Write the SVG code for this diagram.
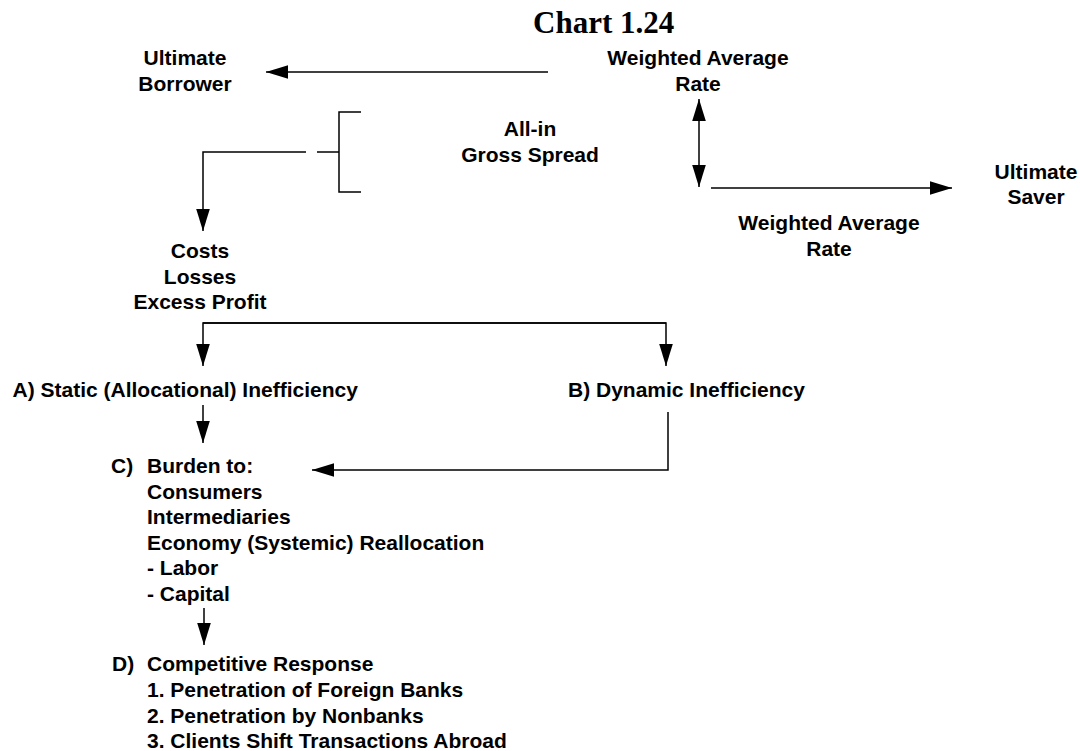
<svg xmlns="http://www.w3.org/2000/svg" width="1080" height="751" viewBox="0 0 1080 751">
<style>
.t{font-family:"Liberation Sans",Arial,sans-serif;font-weight:bold;font-size:21px;fill:#000}
.c{text-anchor:middle}
.title{font-family:"Liberation Serif","Times New Roman",serif;font-weight:bold;font-size:31px;fill:#000}
.ln{fill:none;stroke:#000;stroke-width:1.5}
</style>
<defs>
<marker id="ah" markerUnits="userSpaceOnUse" markerWidth="22" markerHeight="14" viewBox="0 0 21 13" refX="21" refY="6.5" orient="auto-start-reverse">
<path d="M0,0 L21,6.5 L0,13 z" fill="#000"/>
</marker>
</defs>
<rect width="1080" height="751" fill="#fff"/>
<text class="title" x="533" y="33">Chart 1.24</text>
<g id="borrower"><text class="t c" x="185" y="65">Ultimate</text><text class="t c" x="185" y="91">Borrower</text></g>
<g id="rate-top"><text class="t c" x="698" y="65">Weighted Average</text><text class="t c" x="698" y="91">Rate</text></g>
<g id="spread"><text class="t c" x="530" y="136">All-in</text><text class="t c" x="530" y="162">Gross Spread</text></g>
<g id="saver"><text class="t c" x="1036" y="179">Ultimate</text><text class="t c" x="1036" y="204">Saver</text></g>
<g id="rate-bottom"><text class="t c" x="829" y="230">Weighted Average</text><text class="t c" x="829" y="256">Rate</text></g>
<g id="costs"><text class="t c" x="200" y="258">Costs</text><text class="t c" x="200" y="283.5">Losses</text><text class="t c" x="200" y="309">Excess Profit</text></g>
<g id="static"><text class="t" x="12.5" y="397">A) Static (Allocational) Inefficiency</text></g>
<g id="dynamic"><text class="t" x="568" y="397">B) Dynamic Inefficiency</text></g>
<g id="burden">
<text class="t" x="111" y="473">C)</text>
<text class="t" x="147" y="473">Burden to:</text>
<text class="t" x="147" y="498.5">Consumers</text>
<text class="t" x="147" y="524">Intermediaries</text>
<text class="t" x="147" y="549.5">Economy (Systemic) Reallocation</text>
<text class="t" x="147" y="575">- Labor</text>
<text class="t" x="147" y="600.5">- Capital</text>
</g>
<g id="response">
<text class="t" x="112" y="671">D)</text>
<text class="t" x="147" y="671">Competitive Response</text>
<text class="t" x="147" y="697">1. Penetration of Foreign Banks</text>
<text class="t" x="147" y="723">2. Penetration by Nonbanks</text>
<text class="t" x="147" y="748">3. Clients Shift Transactions Abroad</text>
</g>
<g id="connectors">
<line class="ln" x1="548" y1="72" x2="266" y2="72" marker-end="url(#ah)"/>
<polyline class="ln" points="361,112 339,112 339,192 361,192"/>
<line class="ln" x1="317" y1="152" x2="339" y2="152"/>
<polyline class="ln" points="306,152 203,152 203,231" marker-end="url(#ah)"/>
<line class="ln" x1="699" y1="99" x2="699" y2="187" marker-start="url(#ah)" marker-end="url(#ah)"/>
<line class="ln" x1="711" y1="188" x2="952" y2="188" marker-end="url(#ah)"/>
<polyline class="ln" points="666,323 203,323 203,366" marker-end="url(#ah)"/>
<polyline class="ln" points="203,323 666,323 666,366" marker-end="url(#ah)"/>
<line class="ln" x1="203" y1="405" x2="203" y2="443" marker-end="url(#ah)"/>
<polyline class="ln" points="668,412 668,470 312,470" marker-end="url(#ah)"/>
<line class="ln" x1="204" y1="608" x2="204" y2="645" marker-end="url(#ah)"/>
</g>
</svg>
